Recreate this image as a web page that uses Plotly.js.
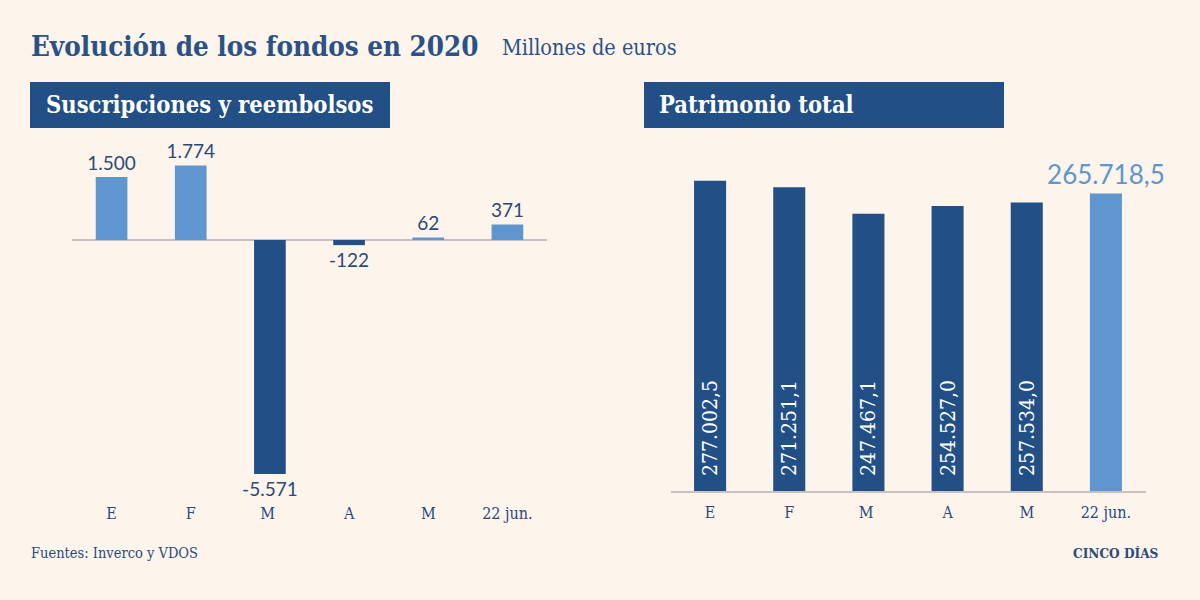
<!DOCTYPE html>
<html>
<head>
<meta charset="utf-8">
<script src="https://cdn.plot.ly/plotly-3.0.1.min.js"></script>
<style>
html,body{margin:0;padding:0;background:#fdf4ec;}
#chart{width:1200px;height:600px;}
</style>
</head>
<body>
<div id="chart"></div>
<script>
// ---- data ----
const months = ["E", "F", "M ", "A", "M", "22 jun."];
const flows = [1500, 1774, -5571, -122, 62, 371];
const assets = [277002.5, 271251.1, 247467.1, 254527.0, 257534.0, 265718.5];

const title = "Evolución de los fondos en 2020";
const subtitle = "Millones de euros";
const leftHeader = "Suscripciones y reembolsos";
const rightHeader = "Patrimonio total";
const source = "Fuentes: Inverco y VDOS";
const brand = "CINCO DÍAS";

// ---- style ----
const DARK = "#214f86";
const LIGHT = "#6096cf";
const TXT = "#2b4a78";
const BG = "#fdf4ec";
const SERIF = "DejaVu Serif Condensed, DejaVu Serif, serif";
const SANS = "Lato, Roboto, sans-serif";

const nHist = assets.length - 1;

const traces = [
  {
    type: "bar", x: months, y: flows, xaxis: "x", yaxis: "y",
    width: 0.4,
    marker: {color: flows.map(v => v >= 0 ? LIGHT : DARK)},
    texttemplate: "%{y:,}", textposition: "outside", constraintext: "none",
    textfont: {family: SANS, size: 19, color: TXT},
    cliponaxis: false, hoverinfo: "skip"
  },
  {
    type: "bar", x: months.slice(0, nHist), y: assets.slice(0, nHist), xaxis: "x2", yaxis: "y2",
    width: 0.405,
    marker: {color: DARK},
    texttemplate: "\u00a0\u00a0%{y:,.1f}", textposition: "inside", textangle: -90,
    insidetextanchor: "start", constraintext: "none",
    textfont: {family: SERIF, size: 21, color: "#ffffff"},
    cliponaxis: false, hoverinfo: "skip"
  },
  {
    type: "bar", x: months.slice(nHist), y: assets.slice(nHist), xaxis: "x2", yaxis: "y2",
    width: 0.405,
    marker: {color: LIGHT},
    texttemplate: "%{y:,.1f}", textposition: "outside", textangle: 0, constraintext: "none",
    textfont: {family: SANS, size: 26, color: LIGHT},
    cliponaxis: false, hoverinfo: "skip"
  }
];

const xcommon = {
  type: "category", categoryorder: "array", categoryarray: months,
  range: [-0.5, 5.5], showgrid: false, zeroline: false, ticks: "",
  tickfont: {family: SERIF, size: 16, color: TXT}, fixedrange: true
};

const layout = {
  width: 1200, height: 600,
  margin: {l: 0, r: 0, t: 0, b: 0},
  paper_bgcolor: BG, plot_bgcolor: BG,
  separators: ",.",
  showlegend: false,
  barmode: "overlay",
  xaxis: Object.assign({}, xcommon, {domain: [72/1200, 547/1200], anchor: "y", showline: false, ticklabelstandoff: 4}),
  yaxis: {domain: [1 - 498/600, 1 - 140/600], range: [-6143, 2381], anchor: "x",
          showgrid: false, showticklabels: false, zeroline: true, zerolinecolor: "#cbbfc0", zerolinewidth: 1.5},
  xaxis2: Object.assign({}, xcommon, {domain: [670.5/1200, 1145.5/1200], anchor: "y2",
          showline: true, linecolor: "#cbbfc0", linewidth: 1.5, ticklabelstandoff: 6}),
  yaxis2: {domain: [1 - 491/600, 1 - 140/600], range: [0, 313400], anchor: "x2",
           showgrid: false, showticklabels: false, zeroline: false},
  shapes: [
    {type: "rect", xref: "paper", yref: "paper", x0: 30/1200, x1: 390/1200, y0: 1 - 128/600, y1: 1 - 82/600,
     fillcolor: DARK, line: {width: 0}},
    {type: "rect", xref: "paper", yref: "paper", x0: 644/1200, x1: 1004/1200, y0: 1 - 128/600, y1: 1 - 82/600,
     fillcolor: DARK, line: {width: 0}}
  ],
  annotations: [
    {text: title, xref: "paper", yref: "paper", x: 29/1200, y: 1 - 46/600, xanchor: "left", yanchor: "middle",
     showarrow: false, font: {family: SERIF, size: 27.5, color: "#2a5286", weight: "bold"}},
    {text: subtitle, xref: "paper", yref: "paper", x: 500/1200, y: 1 - 48/600, xanchor: "left", yanchor: "middle",
     showarrow: false, font: {family: SERIF, size: 21.5, color: "#2a5286"}},
    {text: leftHeader, xref: "paper", yref: "paper", x: 44/1200, y: 1 - 105/600, xanchor: "left", yanchor: "middle",
     showarrow: false, font: {family: SERIF, size: 23.5, color: "#ffffff", weight: "bold"}},
    {text: rightHeader, xref: "paper", yref: "paper", x: 657/1200, y: 1 - 105/600, xanchor: "left", yanchor: "middle",
     showarrow: false, font: {family: SERIF, size: 23.5, color: "#ffffff", weight: "bold"}},
    {text: source, xref: "paper", yref: "paper", x: 29/1200, y: 1 - 553/600, xanchor: "left", yanchor: "middle",
     showarrow: false, font: {family: SERIF, size: 14.5, color: TXT}},
    {text: brand, xref: "paper", yref: "paper", x: 1161/1200, y: 1 - 553/600, xanchor: "right", yanchor: "middle",
     showarrow: false, font: {family: SERIF, size: 13.5, color: TXT, weight: "bold"}}
  ]
};

Plotly.newPlot("chart", traces, layout, {staticPlot: true, displayModeBar: false});
</script>
</body>
</html>
